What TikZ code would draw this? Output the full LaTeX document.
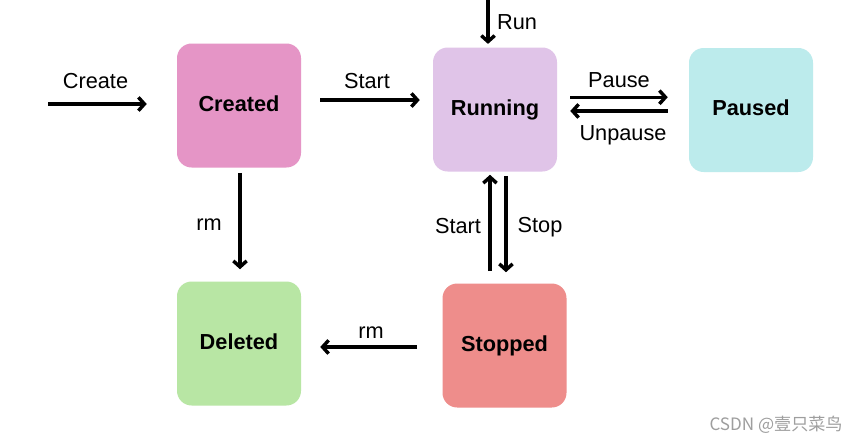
\documentclass[tikz,border=0pt]{standalone}
\usepackage{fontspec}
\setmainfont{Liberation Sans}
\newfontfamily\cjk{Noto Sans CJK SC}
\usepackage{xcolor}
\usetikzlibrary{arrows.meta}

\definecolor{createdc}{HTML}{E595C6}
\definecolor{runningc}{HTML}{E0C4E8}
\definecolor{pausedc}{HTML}{BCEBEC}
\definecolor{deletedc}{HTML}{B8E6A4}
\definecolor{stoppedc}{HTML}{EE8D8B}

\begin{document}
\begin{tikzpicture}[
  x=0.75pt, y=-0.75pt,
  state/.style={rounded corners=11pt, minimum width=93pt, minimum height=93pt,
    inner sep=0pt, text height=11.7pt, text depth=3.4pt,
    font=\fontsize{16.3}{19}\selectfont\bfseries},
  lbl/.style={anchor=base, inner sep=0pt, font=\fontsize{16.3}{19}\selectfont},
  >={Straight Barb[length=4.5pt,width=10pt]},
  arr/.style={->, line width=2.6pt}]
  \useasboundingbox[fill=white] (0,0) rectangle (860,444);

  % states
  \node[state, fill=createdc] (created) at (239,105.5) {Created};
  \node[state, fill=runningc] (running) at (495,109.5) {Running};
  \node[state, fill=pausedc] (paused) at (751,110) {Paused};
  \node[state, fill=deletedc] (deleted) at (239,343.5) {Deleted};
  \node[state, fill=stoppedc] (stopped) at (504.5,345.5) {Stopped};

  \coordinate (createin) at (48,104);
  \coordinate (runin) at (488,0);

  % transitions
  \draw[arr, shorten >=22.5pt] (createin) -- (createin -| created.west);
  \draw[arr, shorten <=14.25pt, shorten >=9.75pt]
    ([yshift=4.1pt]created.east) -- ([yshift=4.1pt]created.east -| running.west);
  \draw[arr, shorten >=2.5pt] (runin) -- (runin |- running.north);
  \draw[arr, shorten <=9.75pt, shorten >=15.75pt]
    ([yshift=9.2pt]running.east) -- ([yshift=9.2pt]running.east -| paused.west);
  \draw[arr, shorten <=15.75pt, shorten >=9.75pt]
    ([yshift=-1.1pt]running.east -| paused.west) -- ([yshift=-1.1pt]running.east);
  \draw[arr, shorten <=3.75pt, shorten >=9pt]
    ([xshift=0.75pt]created.south) -- ([xshift=0.75pt]created.south |- deleted.north);
  \draw[arr, shorten <=9pt, shorten >=2.25pt]
    ([xshift=-10.9pt]stopped.north) -- ([xshift=-10.9pt]stopped.north |- running.south);
  \draw[arr, shorten <=3pt, shorten >=8.25pt]
    ([xshift=1.1pt]stopped.north |- running.south) -- ([xshift=1.1pt]stopped.north);
  \draw[arr, shorten <=18.75pt, shorten >=14.25pt]
    ([yshift=-1.1pt]stopped.west) -- ([yshift=-1.1pt]stopped.west -| deleted.east);

  % labels
  \node[lbl] (createlbl) at (95.5,88) {Create};
  \node[lbl] (startlbl) at (367,88) {Start};
  \node[lbl] (runlbl) at (517,29) {Run};
  \node[lbl] (pauselbl) at (619,87) {Pause};
  \node[lbl] (unpauselbl) at (623,140) {Unpause};
  \node[lbl] (rmdownlbl) at (209,230) {rm};
  \node[lbl] (restartlbl) at (458,233) {Start};
  \node[lbl] (stoplbl) at (540,232) {Stop};
  \node[lbl] (rmleftlbl) at (371,338) {rm};

  \node[anchor=base, inner sep=0pt, text=black!38, font=\cjk\fontsize{12.8}{15}\selectfont]
    (mark) at (776,430) {CSDN @壹只菜鸟};
\end{tikzpicture}
\end{document}
